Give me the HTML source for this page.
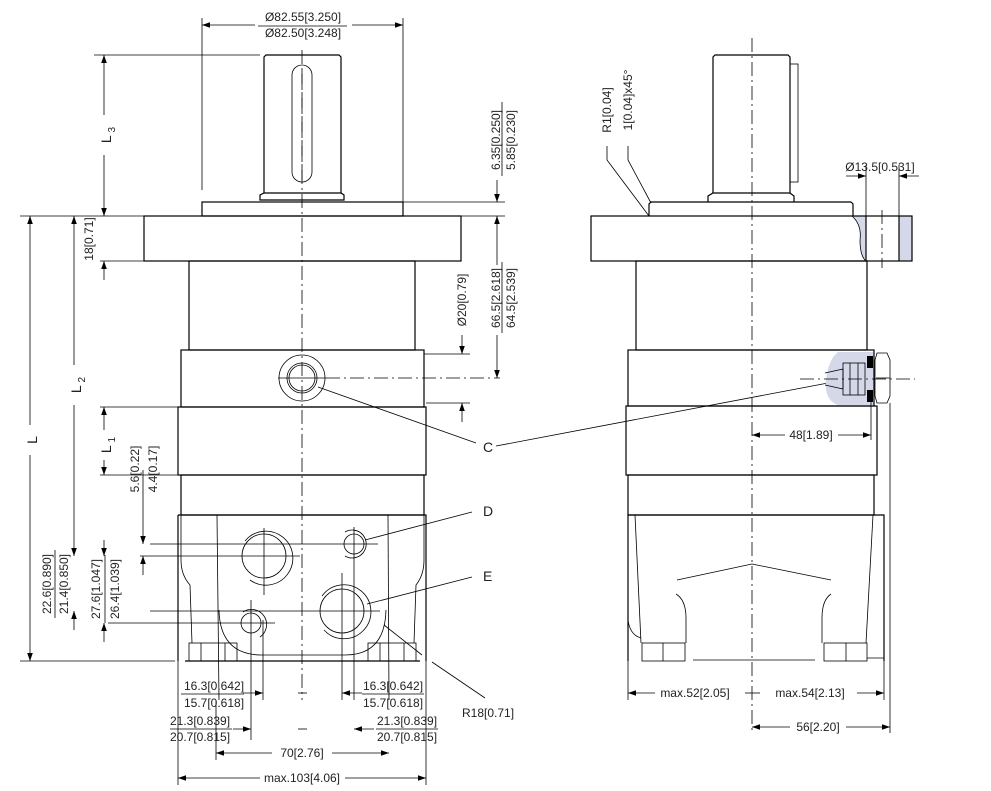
<!DOCTYPE html>
<html><head><meta charset="utf-8"><style>
html,body{margin:0;padding:0;background:#fff}
svg{display:block}
text{font-family:"Liberation Sans",sans-serif;font-size:12px;fill:#222}
.o{fill:none;stroke:#000;stroke-width:1.2}
.t{fill:none;stroke:#000;stroke-width:0.8}
.c{fill:none;stroke:#000;stroke-width:0.8;stroke-dasharray:14 4 2 4}
</style></head><body>
<svg width="991" height="791" viewBox="0 0 991 791" xmlns="http://www.w3.org/2000/svg">
<defs>
<marker id="a" viewBox="0 0 10 10" refX="10" refY="5" markerWidth="13" markerHeight="8" orient="auto-start-reverse" markerUnits="userSpaceOnUse"><path d="M0,1.5 L10,5 L0,8.5 z" fill="#000"/></marker>
</defs>

<!-- ============ LEFT VIEW ============ -->
<line class="c" x1="302" y1="50" x2="302" y2="700"/>
<path class="o" d="M264,193 V57 L266,55 H339 L341,57 V193"/>
<rect class="t" x="292" y="65" width="20" height="117" rx="10"/>
<line class="c" x1="302" y1="70" x2="302" y2="180"/>
<path class="o" d="M260,200 V195 L264,193 H341 L344,195 V200 Z"/>
<rect class="o" x="202" y="202" width="201" height="14"/>
<rect class="o" x="144" y="216" width="317" height="45"/>
<rect class="o" x="189" y="261" width="226" height="89"/>
<rect class="o" x="181" y="350" width="243" height="57"/>
<rect class="o" x="178" y="407" width="248" height="68"/>
<rect class="o" x="181" y="475" width="243" height="40"/>
<path class="o" d="M178,515 H426 V661"/>
<path class="o" d="M178,515 V661"/>
<path class="t" d="M181,515 V560 Q181,575 190,585 L192,643"/>
<path class="t" d="M424,515 V560 Q424,575 416,585 L414,643"/>
<line class="t" x1="217" y1="515" x2="219" y2="700"/>
<line class="t" x1="388" y1="515" x2="389" y2="700"/>
<path class="t" d="M219,610 Q220,655 262,655 H345 Q385,655 386,610"/>
<rect class="t" x="189" y="643" width="48" height="18"/>
<line class="t" x1="201" y1="643" x2="201" y2="661"/><line class="t" x1="225" y1="643" x2="225" y2="661"/>
<rect class="t" x="368" y="643" width="48" height="18"/>
<line class="t" x1="380" y1="643" x2="380" y2="661"/><line class="t" x1="404" y1="643" x2="404" y2="661"/>
<line class="o" x1="185" y1="661" x2="420" y2="661"/>
<circle class="t" cx="302" cy="378" r="23"/>
<circle class="t" cx="302" cy="378" r="15"/>
<circle class="t" cx="302" cy="378" r="13"/>
<line class="t" x1="278" y1="378" x2="326" y2="378"/>
<line class="c" x1="326" y1="378" x2="500" y2="378"/>
<circle class="t" cx="264" cy="556" r="22"/>
<path class="t" d="M245,541 A27,27 0 1 1 250,580"/>
<line class="t" x1="230" y1="556" x2="300" y2="556"/><line class="t" x1="264" y1="528" x2="264" y2="595"/>
<circle class="t" cx="354" cy="544" r="10"/>
<path class="t" d="M345,532 A14,14 0 1 1 345,556"/>
<line class="t" x1="150" y1="544" x2="378" y2="544"/><line class="t" x1="354" y1="527" x2="354" y2="700"/>
<circle class="t" cx="342" cy="611" r="22"/>
<path class="t" d="M322,596 A27,27 0 1 1 324,630"/>
<line class="t" x1="150" y1="611" x2="380" y2="611"/><line class="t" x1="342" y1="573" x2="342" y2="700"/>
<circle class="t" cx="251" cy="623" r="10"/>
<path class="t" d="M243,612 A14,14 0 0 1 260,637"/>
<line class="t" x1="108" y1="623" x2="275" y2="623"/><line class="t" x1="251" y1="600" x2="251" y2="740"/>
<line class="t" x1="263" y1="620" x2="263" y2="700"/>
<line class="t" x1="140" y1="556" x2="230" y2="556"/>

<line class="t" x1="202" y1="18" x2="202" y2="190"/>
<line class="t" x1="403" y1="18" x2="403" y2="216"/>
<line class="t" x1="202" y1="25" x2="255" y2="25" marker-start="url(#a)"/>
<line class="t" x1="352" y1="25" x2="403" y2="25" marker-end="url(#a)"/>
<text x="303" y="21" text-anchor="middle">Ø82.55[3.250]</text>
<line class="t" x1="258" y1="26" x2="347" y2="26"/>
<text x="303" y="37" text-anchor="middle">Ø82.50[3.248]</text>

<line class="t" x1="20" y1="216" x2="144" y2="216"/>
<line class="t" x1="94" y1="55" x2="260" y2="55"/>
<line class="t" x1="20" y1="661" x2="175" y2="661"/>
<line class="t" x1="30" y1="216" x2="30" y2="425" marker-start="url(#a)"/>
<line class="t" x1="30" y1="455" x2="30" y2="661" marker-end="url(#a)"/>
<text transform="translate(37,440) rotate(-90)" text-anchor="middle" style="font-size:14px">L</text>
<line class="t" x1="74" y1="216" x2="74" y2="365" marker-start="url(#a)"/>
<line class="t" x1="74" y1="405" x2="74" y2="556" marker-end="url(#a)"/>
<text transform="translate(81,385) rotate(-90)" text-anchor="middle" style="font-size:14px">L<tspan dy="4" style="font-size:10px"> 2</tspan></text>
<line class="t" x1="104" y1="55" x2="104" y2="115" marker-start="url(#a)"/>
<line class="t" x1="104" y1="155" x2="104" y2="216" marker-end="url(#a)"/>
<text transform="translate(111,135) rotate(-90)" text-anchor="middle" style="font-size:14px">L<tspan dy="4" style="font-size:10px"> 3</tspan></text>
<line class="t" x1="100" y1="407" x2="178" y2="407"/>
<line class="t" x1="100" y1="475" x2="178" y2="475"/>
<line class="t" x1="104" y1="407" x2="104" y2="430" marker-start="url(#a)"/>
<line class="t" x1="104" y1="460" x2="104" y2="475" marker-end="url(#a)"/>
<text transform="translate(111,445) rotate(-90)" text-anchor="middle" style="font-size:14px">L<tspan dy="4" style="font-size:10px"> 1</tspan></text>
<line class="t" x1="100" y1="261" x2="144" y2="261"/>
<line class="t" x1="104" y1="261" x2="104" y2="280" marker-start="url(#a)"/>
<text transform="translate(93,239) rotate(-90)" text-anchor="middle">18[0.71]</text>

<line class="t" x1="143" y1="470" x2="143" y2="544" marker-end="url(#a)"/>
<line class="t" x1="143" y1="556" x2="143" y2="575" marker-start="url(#a)"/>
<text transform="translate(139,469) rotate(-90)" text-anchor="middle">5.6[0.22]</text>
<text transform="translate(157,469) rotate(-90)" text-anchor="middle">4.4[0.17]</text>
<line class="t" x1="74" y1="611" x2="74" y2="630" marker-start="url(#a)"/>
<text transform="translate(51,584) rotate(-90)" text-anchor="middle">22.6[0.890]</text>
<line class="t" x1="55" y1="550" x2="55" y2="618"/>
<text transform="translate(68,584) rotate(-90)" text-anchor="middle">21.4[0.850]</text>
<line class="t" x1="104" y1="540" x2="104" y2="556" marker-end="url(#a)"/>
<line class="t" x1="104" y1="623" x2="104" y2="642" marker-start="url(#a)"/>
<text transform="translate(100,589) rotate(-90)" text-anchor="middle">27.6[1.047]</text>
<line class="t" x1="105" y1="555" x2="105" y2="623"/>
<text transform="translate(119,589) rotate(-90)" text-anchor="middle">26.4[1.039]</text>

<line class="t" x1="403" y1="202" x2="505" y2="202"/>
<line class="t" x1="461" y1="216" x2="505" y2="216"/>
<line class="t" x1="497" y1="180" x2="497" y2="202" marker-end="url(#a)"/>
<text transform="translate(500,140) rotate(-90)" text-anchor="middle">6.35[0.250]</text>
<line class="t" x1="502" y1="102" x2="502" y2="176"/>
<text transform="translate(515,140) rotate(-90)" text-anchor="middle">5.85[0.230]</text>
<line class="t" x1="497" y1="216" x2="497" y2="265" marker-start="url(#a)"/>
<line class="t" x1="497" y1="335" x2="497" y2="378" marker-end="url(#a)"/>
<text transform="translate(500,298) rotate(-90)" text-anchor="middle">66.5[2.618]</text>
<line class="t" x1="502" y1="262" x2="502" y2="333"/>
<text transform="translate(515,298) rotate(-90)" text-anchor="middle">64.5[2.539]</text>
<line class="t" x1="424" y1="354" x2="470" y2="354"/>
<line class="t" x1="426" y1="403" x2="470" y2="403"/>
<line class="t" x1="462" y1="335" x2="462" y2="354" marker-end="url(#a)"/>
<line class="t" x1="462" y1="403" x2="462" y2="422" marker-start="url(#a)"/>
<text transform="translate(466,300) rotate(-90)" text-anchor="middle">Ø20[0.79]</text>

<line class="t" x1="178" y1="661" x2="178" y2="785"/>
<line class="t" x1="426" y1="661" x2="426" y2="785"/>
<line class="t" x1="178" y1="778" x2="260" y2="778" marker-start="url(#a)"/>
<line class="t" x1="345" y1="778" x2="426" y2="778" marker-end="url(#a)"/>
<text x="302" y="782" text-anchor="middle">max.103[4.06]</text>
<line class="t" x1="216" y1="700" x2="216" y2="760"/>
<line class="t" x1="216" y1="753" x2="272" y2="753" marker-start="url(#a)"/>
<line class="t" x1="332" y1="753" x2="389" y2="753" marker-end="url(#a)"/>
<text x="302" y="757" text-anchor="middle">70[2.76]</text>
<line class="t" x1="298" y1="693" x2="307" y2="693"/><line class="t" x1="298" y1="729" x2="307" y2="729"/>
<line class="t" x1="243" y1="693" x2="263" y2="693" marker-end="url(#a)"/>
<line class="t" x1="342" y1="693" x2="362" y2="693" marker-start="url(#a)"/>
<text x="214" y="690" text-anchor="middle">16.3[0.642]</text>
<line class="t" x1="181" y1="694" x2="244" y2="694"/>
<text x="214" y="707" text-anchor="middle">15.7[0.618]</text>
<text x="393" y="690" text-anchor="middle">16.3[0.642]</text>
<line class="t" x1="362" y1="694" x2="424" y2="694"/>
<text x="393" y="707" text-anchor="middle">15.7[0.618]</text>
<line class="t" x1="233" y1="729" x2="251" y2="729" marker-end="url(#a)"/>
<line class="t" x1="354" y1="729" x2="374" y2="729" marker-start="url(#a)"/>
<text x="200" y="725" text-anchor="middle">21.3[0.839]</text>
<line class="t" x1="170" y1="729" x2="232" y2="729"/>
<text x="200" y="741" text-anchor="middle">20.7[0.815]</text>
<text x="407" y="725" text-anchor="middle">21.3[0.839]</text>
<line class="t" x1="376" y1="729" x2="438" y2="729"/>
<text x="407" y="741" text-anchor="middle">20.7[0.815]</text>

<line class="t" x1="318" y1="387" x2="476" y2="443"/>
<text x="483" y="452" style="font-size:14px">C</text>
<line class="t" x1="496" y1="446" x2="828" y2="383"/>
<line class="t" x1="365" y1="540" x2="472" y2="512"/>
<text x="483" y="516" style="font-size:14px">D</text>
<line class="t" x1="367" y1="604" x2="472" y2="577"/>
<text x="483" y="581" style="font-size:14px">E</text>
<line class="t" x1="384" y1="625" x2="422" y2="655"/>
<line class="t" x1="432" y1="662" x2="485" y2="698"/>
<text x="462" y="717">R18[0.71]</text>

<!-- ============ RIGHT VIEW ============ -->
<line class="c" x1="752" y1="38" x2="752" y2="730"/>
<path class="o" d="M713,193 V57 L715,55 H788 L790,57 V193"/>
<rect class="t" x="790" y="64" width="8" height="118"/>
<path class="o" d="M708,202 V196 L713,193 H790 L794,196 V202"/>
<path class="o" d="M649,216 V204 L651,202 H851 L853,204 V216"/>
<path d="M852,216 Q862,225 860,240 Q860,256 866,261 H866 V216 Z" fill="#d4d8e8"/>
<rect x="899" y="216" width="13" height="45" fill="#d4d8e8"/>
<rect class="o" x="591" y="216" width="321" height="45"/>
<path class="t" d="M852,216 Q862,225 860,240 Q860,256 866,261"/>
<line class="o" x1="866" y1="216" x2="866" y2="261"/>
<line class="o" x1="899" y1="216" x2="899" y2="261"/>
<line class="c" x1="882" y1="210" x2="882" y2="268"/>
<line class="t" x1="866" y1="165" x2="866" y2="216"/>
<line class="t" x1="899" y1="165" x2="899" y2="216"/>
<line class="t" x1="846" y1="176" x2="866" y2="176" marker-end="url(#a)"/>
<line class="t" x1="919" y1="176" x2="899" y2="176" marker-end="url(#a)"/>
<text x="880" y="171" text-anchor="middle">Ø13.5[0.531]</text>
<rect class="o" x="636" y="261" width="231" height="89"/>
<path d="M838,352 H874 V405 H838 Q824,400 826,380 Q828,360 838,352 Z" fill="#d4d8e8"/>
<rect class="o" x="628" y="350" width="246" height="56"/>
<path class="t" d="M825,373 L843,369 V389 L825,385"/>
<rect class="t" x="843" y="363" width="22" height="32"/>
<line class="t" x1="850" y1="363" x2="850" y2="395"/><line class="t" x1="858" y1="363" x2="858" y2="395"/>
<rect x="867" y="356" width="6" height="12" fill="#000"/>
<rect x="867" y="390" width="6" height="12" fill="#000"/>
<path class="t" d="M877,353 H887 L890,360 V396 L887,403 H877 L875,396 V360 Z"/>
<line class="t" x1="876" y1="378" x2="890" y2="378"/>
<line class="c" x1="800" y1="379" x2="915" y2="379"/>
<rect class="o" x="626" y="406" width="251" height="69"/>
<rect class="o" x="628" y="475" width="246" height="40"/>
<line class="t" x1="871" y1="400" x2="871" y2="440"/>
<line class="t" x1="752" y1="435" x2="785" y2="435" marker-start="url(#a)"/>
<line class="t" x1="838" y1="435" x2="871" y2="435" marker-end="url(#a)"/>
<text x="811" y="439" text-anchor="middle">48[1.89]</text>
<path class="o" d="M628,515 H884 V661"/>
<line class="o" x1="628" y1="515" x2="628" y2="661"/>
<path class="t" d="M628,620 Q630,635 641,638"/>
<line class="t" x1="635" y1="515" x2="641" y2="643"/>
<line class="t" x1="873" y1="515" x2="866" y2="643"/>
<polyline class="t" points="677,580 752,564 831,580"/>
<path class="t" d="M676,594 Q686,600 686,618 V643"/>
<path class="t" d="M831,594 Q822,600 822,618 V643"/>
<rect class="t" x="642" y="643" width="43" height="18"/>
<line class="t" x1="663" y1="643" x2="663" y2="661"/>
<rect class="t" x="824" y="643" width="43" height="18"/>
<line class="t" x1="846" y1="643" x2="846" y2="661"/>
<line class="t" x1="693" y1="660" x2="815" y2="660"/>
<line class="t" x1="867" y1="658" x2="884" y2="658"/>
<line class="t" x1="628" y1="661" x2="628" y2="700"/>
<line class="t" x1="884" y1="661" x2="884" y2="700"/>
<line class="t" x1="890" y1="403" x2="890" y2="733"/>
<line class="t" x1="628" y1="693" x2="655" y2="693" marker-start="url(#a)"/>
<line class="t" x1="745" y1="693" x2="760" y2="693"/>
<line class="t" x1="857" y1="693" x2="884" y2="693" marker-end="url(#a)"/>
<text x="695" y="697" text-anchor="middle">max.52[2.05]</text>
<text x="810" y="697" text-anchor="middle">max.54[2.13]</text>
<line class="t" x1="752" y1="727" x2="790" y2="727" marker-start="url(#a)"/>
<line class="t" x1="846" y1="727" x2="890" y2="727" marker-end="url(#a)"/>
<text x="818" y="731" text-anchor="middle">56[2.20]</text>
<polyline class="t" points="607,146 607,160 649,216"/>
<polyline class="t" points="628,146 628,160 651,203"/>
<text transform="translate(611,110) rotate(-90)" text-anchor="middle">R1[0.04]</text>
<text transform="translate(632,100) rotate(-90)" text-anchor="middle">1[0.04]x45°</text>
</svg>
</body></html>
